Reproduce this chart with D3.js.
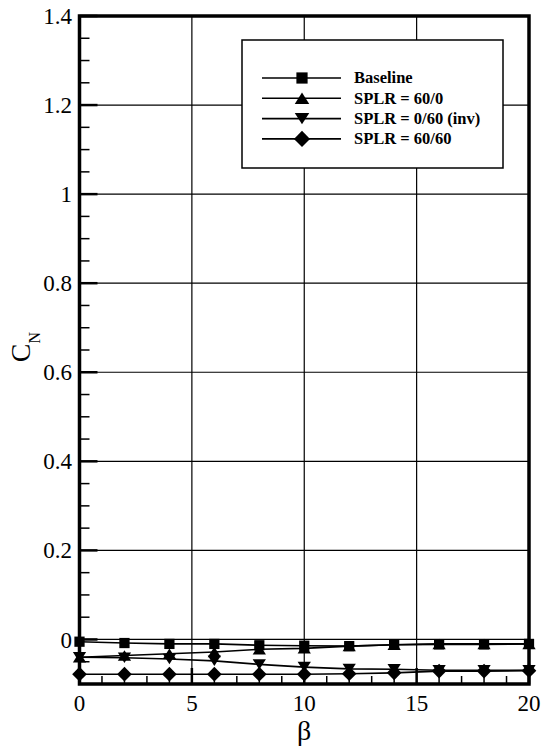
<!DOCTYPE html>
<html><head><meta charset="utf-8">
<script src="https://cdn.jsdelivr.net/npm/d3@7"></script>
<style>body{margin:0;background:#fff}svg{display:block}text{font-family:"Liberation Serif","Times New Roman",serif;fill:#000}</style>
</head><body>
<script>
const beta = [0,2,4,6,8,10,12,14,16,18,20];
const baseline  = [-0.005,-0.008,-0.010,-0.010,-0.013,-0.014,-0.015,-0.012,-0.011,-0.011,-0.010];
const splr60_0  = [-0.040,-0.036,-0.032,-0.028,-0.022,-0.020,-0.015,-0.012,-0.010,-0.010,-0.010];
const splr0_60  = [-0.040,-0.041,-0.044,-0.048,-0.056,-0.062,-0.066,-0.067,-0.069,-0.069,-0.069];
const splr60_60 = [-0.078,-0.078,-0.078,-0.078,-0.078,-0.078,-0.077,-0.075,-0.071,-0.071,-0.070];
const seriesNames = ["Baseline","SPLR = 60/0","SPLR = 0/60 (inv)","SPLR = 60/60"];
const xTicks = [0,5,10,15,20];
const yTicks = [0,0.2,0.4,0.6,0.8,1,1.2,1.4];
const yTickLabels = ["0","0.2","0.4","0.6","0.8","1","1.2","1.4"];

const W=545,H=751;
const L=79.5,R=529,T=16,B=684;
const svg=d3.select("body").append("svg").attr("width",W).attr("height",H);
const x=d3.scaleLinear().domain([0,20]).range([L,R]);
const y=d3.scaleLinear().domain([-0.1,1.4]).range([B,T]);

// grid
const g=svg.append("g");
[5,10,15].forEach(v=>g.append("line").attr("x1",x(v)).attr("x2",x(v)).attr("y1",T).attr("y2",B).attr("stroke","#000").attr("stroke-width",1.2));
[0,0.2,0.4,0.6,0.8,1,1.2].forEach(v=>g.append("line").attr("x1",L).attr("x2",R).attr("y1",y(v)).attr("y2",y(v)).attr("stroke","#000").attr("stroke-width",1.2));

// ticks (inside)
for(let v=0;v<=20;v++){ if(v%5===0) continue;
  g.append("line").attr("x1",x(v)).attr("x2",x(v)).attr("y1",B).attr("y2",B-8).attr("stroke","#000").attr("stroke-width",1.5);}
xTicks.forEach(v=>g.append("line").attr("x1",x(v)).attr("x2",x(v)).attr("y1",B).attr("y2",B-16).attr("stroke","#000").attr("stroke-width",2.5));
for(let i=-2;i<=28;i++){ const v=i*0.05; if(i%4===0) continue;
  g.append("line").attr("x1",L).attr("x2",L+10).attr("y1",y(v)).attr("y2",y(v)).attr("stroke","#000").attr("stroke-width",1.5);}
yTicks.forEach(v=>g.append("line").attr("x1",L).attr("x2",L+18).attr("y1",y(v)).attr("y2",y(v)).attr("stroke","#000").attr("stroke-width",2.5));

// tick labels
svg.append("g").selectAll("text").data(xTicks).join("text")
  .attr("x",d=>x(d)).attr("y",711).attr("text-anchor","middle").attr("font-size",23).text(d=>d);
svg.append("g").selectAll("text").data(yTicks).join("text")
  .attr("x",72).attr("y",d=>y(d)).attr("dy","0.35em").attr("text-anchor","end").attr("font-size",23).text((d,i)=>yTickLabels[i]);

// axis titles
svg.append("text").attr("x",304).attr("y",740).attr("text-anchor","middle").attr("font-size",28).text("β");
const yl=svg.append("text").attr("transform","translate(30,347) rotate(-90)").attr("text-anchor","middle").attr("font-size",28);
yl.append("tspan").text("C");
yl.append("tspan").attr("font-size",16).attr("dy",10).text("N");

// symbols
const sq={draw(c,s){const r=Math.sqrt(s)/2;c.moveTo(-r,-r);c.lineTo(r,-r);c.lineTo(r,r);c.lineTo(-r,r);c.closePath();}};
const tu={draw(c,s){const w=Math.sqrt(s)*0.7,h=Math.sqrt(s)*0.55;c.moveTo(0,-h);c.lineTo(w,h);c.lineTo(-w,h);c.closePath();}};
const td={draw(c,s){const w=Math.sqrt(s)*0.7,h=Math.sqrt(s)*0.55;c.moveTo(0,h);c.lineTo(w,-h);c.lineTo(-w,-h);c.closePath();}};
const dm={draw(c,s){const r=Math.sqrt(s)*0.7;c.moveTo(0,-r);c.lineTo(r,0);c.lineTo(0,r);c.lineTo(-r,0);c.closePath();}};
const types=[sq,tu,td,dm];
const sizes=[105,90,90,110];
const allSeries=[baseline,splr60_0,splr0_60,splr60_60];

const line=d3.line().x(d=>x(d[0])).y(d=>y(d[1]));
allSeries.forEach((s,k)=>{
  const pts=beta.map((b,i)=>[b,s[i]]);
  svg.append("path").attr("d",line(pts)).attr("fill","none").attr("stroke","#000").attr("stroke-width",1.6);
});
allSeries.forEach((s,k)=>{
  const pts=beta.map((b,i)=>[b,s[i]]);
  svg.append("g").selectAll("path").data(pts).join("path")
    .attr("transform",d=>`translate(${x(d[0])},${y(d[1])})`)
    .attr("d",d3.symbol().type(types[k]).size(sizes[k])).attr("fill","#000");
});

// frame
svg.append("rect").attr("x",L).attr("y",T).attr("width",R-L).attr("height",B-T).attr("fill","none").attr("stroke","#000").attr("stroke-width",3.5);

// legend
const lg=svg.append("g");
lg.append("rect").attr("x",242).attr("y",40).attr("width",261).attr("height",128).attr("fill","#fff").attr("stroke","#000").attr("stroke-width",1.5);
seriesNames.forEach((n,k)=>{
  const yy=78+k*20.3;
  lg.append("line").attr("x1",262).attr("x2",341).attr("y1",yy).attr("y2",yy).attr("stroke","#000").attr("stroke-width",1.6);
  lg.append("path").attr("transform",`translate(302,${yy})`).attr("d",d3.symbol().type(types[k]).size(sizes[k]*1.2)).attr("fill","#000");
  lg.append("text").attr("x",354).attr("y",yy).attr("dy","0.33em").attr("font-size",16.5).attr("font-weight","bold").text(n);
});
</script>
</body></html>
